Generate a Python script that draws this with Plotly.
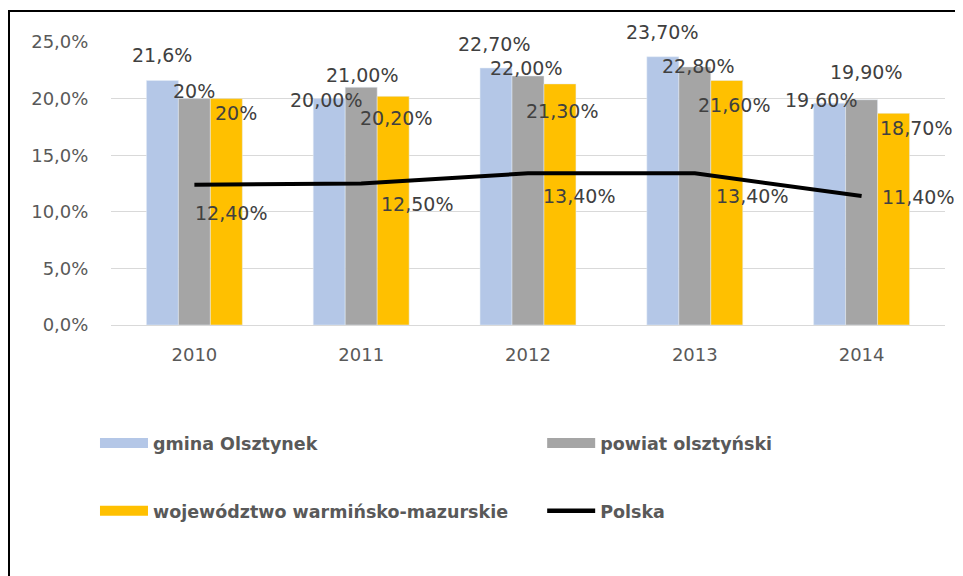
import plotly.graph_objects as go

years = [2010, 2011, 2012, 2013, 2014]
gmina = [21.6, 20.0, 22.7, 23.7, 19.6]
powiat = [20.0, 21.0, 22.0, 22.8, 19.9]
woj = [20.0, 20.2, 21.3, 21.6, 18.7]
polska = [12.4, 12.5, 13.4, 13.4, 11.4]

gmina_lbl = ["21,6%", "20,00%", "22,70%", "23,70%", "19,60%"]
powiat_lbl = ["20%", "21,00%", "22,00%", "22,80%", "19,90%"]
woj_lbl = ["20%", "20,20%", "21,30%", "21,60%", "18,70%"]
polska_lbl = ["12,40%", "12,50%", "13,40%", "13,40%", "11,40%"]

names = ["gmina Olsztynek", "powiat olsztyński", "województwo warmińsko-mazurskie", "Polska"]
colors = ["#B4C7E7", "#A5A5A5", "#FFC000", "#000000"]

# label offsets in pixels (dx, dy up)
off_gmina = [(0, 25), (-3, -1), (-2, 24), (-1, 25), (-9, 3)]
off_powiat = [(0, 8), (1, 12), (-2, 8), (3, 1), (4, 28)]
off_woj = [(10, -14), (3, -22), (2, -27), (7, -25), (22, -15)]
off_pol = [(37, -28), (56, -20), (51, -23), (57, -23), (56, -1)]

fig = go.Figure()
for vals, c in zip([gmina, powiat, woj], colors[:3]):
    fig.add_trace(go.Bar(x=years, y=vals, marker_color=c, showlegend=False))
fig.add_trace(go.Scatter(x=years, y=polska, mode="lines",
                         line=dict(color="black", width=4), showlegend=False))

# legend proxies, each in its own legend box
leg_ids = ["legend", "legend2", "legend3", "legend4"]
for i, (n, c) in enumerate(zip(names, colors)):
    fig.add_trace(go.Scatter(x=[years[0]], y=[None], mode="lines", name=n,
                             line=dict(color=c, width=4.5 if i == 3 else 13),
                             legend=leg_ids[i]))

lbl_font = dict(family="DejaVu Sans", size=19, color="#404040")
ann = []
for vals, lbls, offs, sh in [(gmina, gmina_lbl, off_gmina, -32),
                             (powiat, powiat_lbl, off_powiat, 0),
                             (woj, woj_lbl, off_woj, 32)]:
    for x, v, t, (dx, dy) in zip(years, vals, lbls, offs):
        ann.append(dict(x=x, y=v, text=t, showarrow=False, xshift=sh + dx,
                        yshift=dy, font=lbl_font))
for x, v, t, (dx, dy) in zip(years, polska, polska_lbl, off_pol):
    ann.append(dict(x=x, y=v, text=t, showarrow=False, xshift=dx, yshift=dy,
                    font=lbl_font))

leg_font = dict(family="DejaVu Sans", size=17.5, color="#595959", weight="bold")

leg_pos = [(-0.0192, -0.417), (0.517, -0.417), (-0.0192, -0.657), (0.517, -0.657)]
legends = {}
for lid, (lx, ly) in zip(leg_ids, leg_pos):
    legends[lid] = dict(orientation="h", x=lx, xanchor="left", y=ly, yanchor="middle",
                        itemwidth=48, font=leg_font, bgcolor="rgba(0,0,0,0)")

tick_font = dict(family="DejaVu Sans", size=18, color="#595959")

fig.update_layout(
    width=955, height=568,
    margin=dict(l=103, r=18, t=34, b=251),
    paper_bgcolor="white", plot_bgcolor="white",
    barmode="group", bargap=0.425, bargroupgap=0,
    separators=", ",
    annotations=ann,
    xaxis=dict(range=[years[0] - 0.5, years[-1] + 0.5], tickmode="array",
               tickvals=years, ticktext=[str(y) for y in years],
               showgrid=False, showline=True, linecolor="#d9d9d9", linewidth=1,
               zeroline=False, tickfont=tick_font,
               ticks="outside", ticklen=13, tickcolor="white"),
    yaxis=dict(range=[0, 25], dtick=5, tickformat=".1f", ticksuffix="%",
               showgrid=True, gridcolor="#d9d9d9", gridwidth=1, zeroline=False,
               tickfont=tick_font,
               ticks="outside", ticklen=18, tickcolor="white"),
    shapes=[dict(type="rect", xref="paper", yref="paper", x0=-0.1223, x1=1.1,
                 y0=-1.2, y1=1.1095, line=dict(color="black", width=2),
                 fillcolor="rgba(0,0,0,0)", layer="above")],
    **legends,
)

fig.write_html("out.html")
